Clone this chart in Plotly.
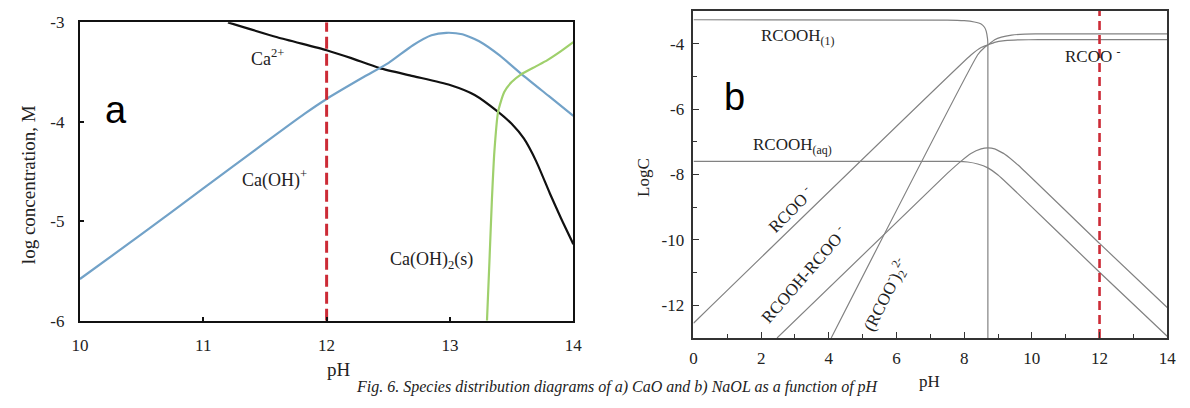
import plotly.graph_objects as go

# ---------------- Panel a data (CaO) ----------------
ca2_ph = [11.2, 11.6, 12.0, 12.2, 12.43, 12.7, 13.0, 13.2, 13.39, 13.5, 13.6, 13.7, 13.81, 13.9, 14.0]
ca2_log = [-3.0, -3.15, -3.28, -3.36, -3.46, -3.54, -3.63, -3.73, -3.90, -4.02, -4.17, -4.40, -4.72, -4.97, -5.23]

caoh_ph = [10.0, 10.5, 11.0, 11.5, 11.82, 12.0, 12.3, 12.5, 12.7, 12.85, 12.97, 13.1, 13.25, 13.4, 13.58, 13.8, 14.0]
caoh_log = [-5.58, -5.13, -4.67, -4.21, -3.92, -3.77, -3.55, -3.41, -3.23, -3.13, -3.105, -3.12, -3.20, -3.33, -3.52, -3.74, -3.94]

caoh2_ph = [13.30, 13.32, 13.34, 13.36, 13.39, 13.44, 13.5, 13.58, 13.7, 13.79, 13.9, 14.0]
caoh2_log = [-6.0, -5.4, -4.78, -4.3, -3.9, -3.7, -3.6, -3.52, -3.44, -3.38, -3.29, -3.2]

a_xticks = [10, 11, 12, 13, 14]
a_xticklabels = ["10", "11", "12", "13", "14"]
a_yticks = [-6, -5, -4, -3]
a_yticklabels = ["-6", "-5", "-4", "-3"]

# ---------------- Panel b data (NaOL) ----------------
rcoohl_ph = [0, 7.5, 8.0, 8.3, 8.5, 8.6, 8.65, 8.69, 8.7, 8.7, 8.7, 8.7]
rcoohl_log = [-3.27, -3.28, -3.30, -3.34, -3.40, -3.50, -3.62, -3.85, -4.05, -4.5, -6.0, -13.0]

rcoo_ph = [0, 8.2, 8.5, 8.7, 8.9, 9.2, 9.6, 10.2, 14]
rcoo_log = [-12.55, -4.35, -4.12, -4.04, -3.96, -3.91, -3.885, -3.88, -3.88]

dimer_ph = [4.07, 8.4, 8.6, 8.7, 8.9, 9.1, 9.4, 9.8, 10.4, 14]
dimer_log = [-13.0, -4.34, -4.12, -4.04, -3.88, -3.80, -3.74, -3.71, -3.70, -3.70]

rcoohaq_ph = [0, 7.8, 8.1, 8.4, 8.7, 9.0, 9.5, 12.0, 14.0]
rcoohaq_log = [-7.6, -7.6, -7.62, -7.68, -7.8, -8.02, -8.5, -10.99, -12.95]

acidsoap_ph = [2.47, 7.5, 7.9, 8.2, 8.5, 8.7, 8.9, 9.2, 9.6, 12.0, 14.0]
acidsoap_log = [-13.0, -7.97, -7.6, -7.36, -7.22, -7.19, -7.22, -7.38, -7.72, -10.11, -12.07]

b_xticks = [0, 2, 4, 6, 8, 10, 12, 14]
b_xticklabels = ["0", "2", "4", "6", "8", "10", "12", "14"]
b_yticks = [-12, -10, -8, -6, -4]
b_yticklabels = ["-12", "-10", "-8", "-6", "-4"]

marker_ph = 12

W, H = 1190, 408
SERIF = "Liberation Serif"
SANS = "Liberation Sans"

fig = go.Figure()

# panel a traces
fig.add_trace(go.Scatter(x=ca2_ph, y=ca2_log, mode="lines", line=dict(color="#111111", width=2.2, shape="spline", smoothing=0.6), xaxis="x", yaxis="y"))
fig.add_trace(go.Scatter(x=caoh_ph, y=caoh_log, mode="lines", line=dict(color="#72a2c8", width=2.2, shape="spline", smoothing=0.6), xaxis="x", yaxis="y"))
fig.add_trace(go.Scatter(x=caoh2_ph, y=caoh2_log, mode="lines", line=dict(color="#9fd06c", width=2.2, shape="spline", smoothing=0.6), xaxis="x", yaxis="y"))
fig.add_trace(go.Scatter(x=[marker_ph, marker_ph], y=[-6, -3], mode="lines", line=dict(color="#cc2b36", width=3, dash="12px,5px"), xaxis="x", yaxis="y"))

# panel b traces
for xs, ys in [(rcoohl_ph, rcoohl_log), (rcoo_ph, rcoo_log), (dimer_ph, dimer_log),
               (rcoohaq_ph, rcoohaq_log), (acidsoap_ph, acidsoap_log)]:
    fig.add_trace(go.Scatter(x=xs, y=ys, mode="lines", line=dict(color="#828282", width=1.2, shape="spline", smoothing=0.35), xaxis="x2", yaxis="y2"))
fig.add_trace(go.Scatter(x=[marker_ph, marker_ph], y=[-13, -3], mode="lines", line=dict(color="#cc2b36", width=2.6, dash="9px,5px"), xaxis="x2", yaxis="y2"))

def px_x(p):
    return p / W

def px_y(p):
    return 1 - p / H

axis_a = dict(showgrid=False, zeroline=False, showline=True, linecolor="#111111", linewidth=2,
              mirror=True, ticks="inside", ticklen=4, tickcolor="#111111", tickwidth=1.5,
              tickfont=dict(family=SERIF, size=17, color="#222222"))
fig.update_layout(
    xaxis=dict(domain=[px_x(72), px_x(573)], range=[10, 14], tickmode="array", tickvals=a_xticks,
               ticktext=a_xticklabels, anchor="y", ticklabelstandoff=8, **axis_a),
    yaxis=dict(domain=[px_y(327), px_y(14)], range=[-6, -3], tickmode="array", tickvals=a_yticks,
               ticktext=a_yticklabels, anchor="x", ticklabelstandoff=10, **axis_a),
)
axis_b = dict(showgrid=False, zeroline=False, showline=True, linecolor="#333333", linewidth=1.6,
              mirror=True, ticks="inside", ticklen=6, tickcolor="#333333", tickwidth=1.3,
              tickfont=dict(family=SERIF, size=17, color="#222222"))
fig.update_layout(
    xaxis2=dict(domain=[px_x(695), px_x(1176)], range=[0, 14], tickmode="array", tickvals=b_xticks,
                ticktext=b_xticklabels, anchor="y2",
                minor=dict(ticks="inside", ticklen=4, tickvals=list(range(1, 14, 2)), tickcolor="#333333"),
                ticklabelstandoff=4, **axis_b),
    yaxis2=dict(domain=[px_y(345), px_y(2)], range=[-13, -3], tickmode="array", tickvals=b_yticks,
                ticktext=b_yticklabels, anchor="x2",
                minor=dict(ticks="inside", ticklen=4, tickvals=[-13, -11, -9, -7, -5, -3], tickcolor="#333333"),
                ticklabelstandoff=4, **axis_b),
)

anns = []
def A(text, x, y, xref, yref, size, family=SERIF, angle=0, color="#222222"):
    anns.append(dict(text=text, x=x, y=y, xref=xref, yref=yref, showarrow=False, textangle=angle,
                     font=dict(family=family, size=size, color=color), xanchor="center", yanchor="middle"))

# panel a labels
A("Ca<sup>2+</sup>", 11.52, -3.35, "x", "y", 18)
A("Ca(OH)<sup>+</sup>", 11.58, -4.57, "x", "y", 18)
A("Ca(OH)<sub>2</sub>(s)", 12.85, -5.39, "x", "y", 18)
A("a", 10.29, -3.88, "x", "y", 38, family=SANS, color="#000000")
A("log concentration, M", px_x(20), px_y(184), "paper", "paper", 19, angle=-90)
A("pH", px_x(335), px_y(378), "paper", "paper", 19)

# panel b labels
A("RCOOH<sub>(1)</sub>", 3.06, -3.80, "x2", "y2", 17)
A("RCOOH<sub>(aq)</sub>", 2.92, -7.12, "x2", "y2", 17)
A("b", 1.22, -5.62, "x2", "y2", 38, family=SANS, color="#000000")
A("RCOO <sup>-</sup>", 11.8, -4.35, "x2", "y2", 17)
A("RCOO <sup>-</sup>", 2.85, -9.05, "x2", "y2", 17, angle=-45)
A("RCOOH-RCOO <sup>-</sup>", 3.25, -11.05, "x2", "y2", 17, angle=-49)
A("(RCOO<sup>-</sup>)<sub>2</sub><sup>2-</sup>", 5.68, -11.7, "x2", "y2", 17, angle=-63)
A("LogC", px_x(645), px_y(177), "paper", "paper", 17, angle=-90)
A("pH", px_x(935), px_y(391), "paper", "paper", 17)

# figure caption along the bottom edge
anns.append(dict(text="<i>Fig. 6. Species distribution diagrams of a) CaO and b) NaOL as a function of pH</i>",
                 x=px_x(618), y=0, xref="paper", yref="paper", showarrow=False,
                 xanchor="center", yanchor="bottom", font=dict(family=SERIF, size=16, color="#222222")))

fig.update_layout(width=W, height=H, margin=dict(l=0, r=0, t=0, b=0), showlegend=False,
                  paper_bgcolor="white", plot_bgcolor="white", annotations=anns)

fig.write_html("out.html")
